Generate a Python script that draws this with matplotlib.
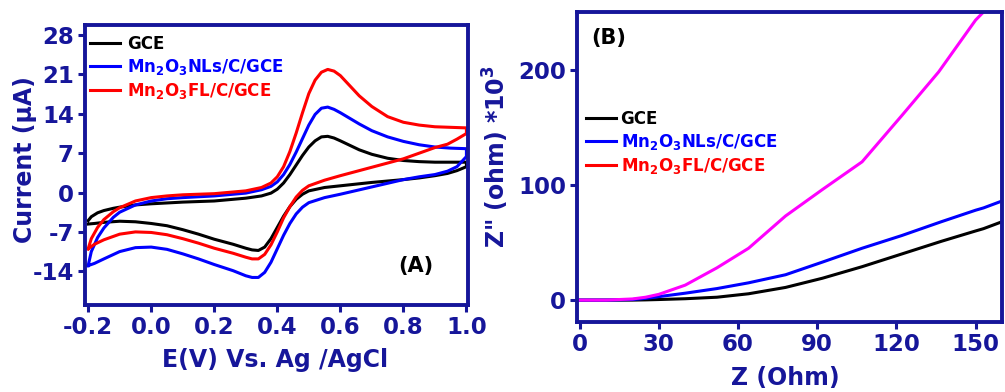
import numpy as np
import matplotlib
matplotlib.use('Agg')
import matplotlib.pyplot as plt
from matplotlib.lines import Line2D

plt.rcParams['font.family'] = 'DejaVu Sans'
plt.rcParams['font.weight'] = 'bold'
plt.rcParams['mathtext.fontset'] = 'dejavusans'
plt.rcParams['mathtext.default'] = 'bf'
plt.rcParams['axes.unicode_minus'] = False

NAVY = '#16169a'

# ---- Panel A: cyclic voltammetry (forward sweep, then reverse sweep) ----
E_fwd = [-0.2, -0.19, -0.17, -0.15, -0.12, -0.1, -0.05, 0.0, 0.05, 0.1, 0.2, 0.3,
         0.35, 0.38, 0.4, 0.42, 0.44, 0.46, 0.48, 0.5, 0.52, 0.54, 0.56, 0.58,
         0.6, 0.63, 0.66, 0.7, 0.75, 0.8, 0.85, 0.9, 0.95, 1.0]
E_rev = [1.0, 0.97, 0.94, 0.9, 0.85, 0.8, 0.7, 0.6, 0.55, 0.5, 0.48, 0.46, 0.44,
         0.42, 0.4, 0.38, 0.36, 0.34, 0.32, 0.3, 0.26, 0.2, 0.15, 0.1, 0.05, 0.0,
         -0.05, -0.1, -0.15, -0.18, -0.2]

gce_fwd = [-5.0, -4.3, -3.6, -3.2, -2.8, -2.6, -2.2, -2.0, -1.85, -1.7, -1.5, -1.0,
           -0.6, -0.1, 0.6, 1.7, 3.2, 4.9, 6.6, 8.1, 9.2, 9.9, 10.0, 9.7,
           9.2, 8.4, 7.6, 6.8, 6.1, 5.7, 5.5, 5.4, 5.4, 5.4]
gce_rev = [4.6, 3.9, 3.4, 3.0, 2.6, 2.3, 1.8, 1.2, 0.9, 0.3, -0.3, -1.2, -2.5,
           -4.2, -6.2, -8.2, -9.7, -10.3, -10.2, -9.9, -9.2, -8.3, -7.4, -6.6, -5.9, -5.5,
           -5.2, -5.1, -5.3, -5.5, -5.6]

nls_fwd = [-13.0, -10.5, -8.0, -6.3, -4.4, -3.5, -2.2, -1.5, -1.1, -0.9, -0.6, -0.1,
           0.5, 1.1, 1.9, 3.2, 5.0, 7.2, 9.6, 12.0, 13.9, 15.0, 15.2, 14.8,
           14.2, 13.2, 12.2, 11.0, 9.9, 9.1, 8.5, 8.1, 7.9, 7.8]
nls_rev = [6.4, 4.6, 3.8, 3.2, 2.8, 2.3, 1.0, -0.3, -0.9, -1.8, -2.6, -3.8, -5.5,
           -7.6, -10.0, -12.4, -14.2, -15.1, -15.1, -14.8, -13.9, -12.8, -11.8, -10.9, -10.1, -9.7,
           -9.8, -10.5, -11.8, -12.6, -13.0]

fl_fwd = [-10.0, -8.2, -6.2, -4.8, -3.4, -2.7, -1.5, -0.9, -0.6, -0.4, -0.2, 0.3,
          0.9, 1.7, 2.8, 4.6, 7.3, 10.6, 14.2, 17.6, 20.0, 21.4, 21.9, 21.6,
          20.8, 19.0, 17.2, 15.3, 13.5, 12.5, 12.0, 11.7, 11.6, 11.5]
fl_rev = [10.5, 9.5, 8.6, 8.0, 7.0, 6.0, 4.5, 3.0, 2.2, 1.2, 0.4, -0.8, -2.5,
          -4.5, -7.0, -9.3, -11.0, -11.8, -11.8, -11.5, -10.8, -9.9, -9.0, -8.2, -7.5, -7.1,
          -7.0, -7.4, -8.4, -9.2, -10.0]

# ---- Panel B: Nyquist ----
z_re = [0, 10, 20, 25, 30, 40, 52, 64, 78, 92, 107, 122, 137, 150, 153, 160]
gce_im = [0, 0, 0, 0.2, 0.5, 1.2, 2.5, 5.5, 11, 19, 29, 40, 51, 60, 62, 68]
nls_im = [0, 0, 0.5, 1.5, 3, 6, 10, 15, 22, 33, 45, 56, 68, 78, 80, 86]
z_re_fl = [0, 10, 20, 25, 30, 40, 52, 64, 78, 92, 107, 122, 136, 150, 153]
fl_im = [0, 0, 1, 2.5, 5, 13, 28, 45, 73, 96, 120, 160, 198, 243, 250]

labels = ['GCE', 'Mn$_2$O$_3$NLs/C/GCE', 'Mn$_2$O$_3$FL/C/GCE']
colors = ['black', '#0000ff', '#ff0000']

fig = plt.figure(figsize=(10.05, 3.92), dpi=100)
W, H = 1005, 392


def style(ax):
    for s in ax.spines.values():
        s.set_color(NAVY)
        s.set_linewidth(2.8)
    ax.tick_params(direction='out', length=5, width=2.2, color=NAVY,
                   labelcolor=NAVY, labelsize=16.5, pad=3)
    for t in ax.get_xticklabels() + ax.get_yticklabels():
        t.set_fontweight('bold')


axA = fig.add_axes([85 / W, (H - 305) / H, 383 / W, 280 / H])
axA.plot(E_fwd + E_rev, gce_fwd + gce_rev, color='black', lw=2.2)
axA.plot(E_fwd + E_rev, nls_fwd + nls_rev, color='#0000ff', lw=2.2)
axA.plot(E_fwd + E_rev, fl_fwd + fl_rev, color='#ff0000', lw=2.2)
axA.set_xlim(-0.21, 1.005)
axA.set_ylim(-20, 29.8)
axA.set_xticks([-0.2, 0.0, 0.2, 0.4, 0.6, 0.8, 1.0])
axA.set_xticklabels(['-0.2', '0.0', '0.2', '0.4', '0.6', '0.8', '1.0'])
axA.set_yticks([-14, -7, 0, 7, 14, 21, 28])
style(axA)
axA.text(0.865, 0.14, '(A)', transform=axA.transAxes, fontsize=15,
         fontweight='bold', color='black', ha='center', va='center')

handles = [Line2D([], [], color=c, lw=2.2) for c in colors]
legA = axA.legend(handles, labels, loc='upper left', bbox_to_anchor=(0.012, 0.965),
                  frameon=False, borderpad=0, borderaxespad=0, handlelength=1.85,
                  handletextpad=0.4, labelspacing=0.25,
                  prop={'weight': 'bold', 'size': 12})
for t, c in zip(legA.get_texts(), colors):
    t.set_color(c)

fig.text(25 / W, 1 - 160 / H, 'Current (µA)', rotation=90, ha='center',
         va='center', fontsize=17, fontweight='bold', color=NAVY)
fig.text(275 / W, 1 - 360 / H, 'E(V) Vs. Ag /AgCl', ha='center', va='center',
         fontsize=17, fontweight='bold', color=NAVY)

axB = fig.add_axes([577 / W, (H - 322) / H, 425 / W, 310 / H])
axB.plot(z_re, gce_im, color='black', lw=2.2)
axB.plot(z_re, nls_im, color='#0000ff', lw=2.2)
axB.plot(z_re_fl, fl_im, color='#ff00ff', lw=2.2)
axB.set_xlim(-1, 160)
axB.set_ylim(-19, 250)
axB.set_xticks([0, 30, 60, 90, 120, 150])
axB.set_yticks([0, 100, 200])
style(axB)
axB.text(0.075, 0.915, '(B)', transform=axB.transAxes, fontsize=15,
         fontweight='bold', color='black', ha='center', va='center')

legB = axB.legend(handles, labels, loc='upper left', bbox_to_anchor=(0.02, 0.685),
                  frameon=False, borderpad=0, borderaxespad=0, handlelength=1.85,
                  handletextpad=0.25, labelspacing=0.25,
                  prop={'weight': 'bold', 'size': 12})
for t, c in zip(legB.get_texts(), colors):
    t.set_color(c)

fig.text(496 / W, 1 - 157 / H, 'Z" (ohm) *10$^{3}$', rotation=90, ha='center',
         va='center', fontsize=17, fontweight='bold', color=NAVY)
fig.text(785 / W, 1 - 378 / H, 'Z (Ohm)', ha='center', va='center',
         fontsize=17, fontweight='bold', color=NAVY)

fig.savefig('out.png', dpi=100)
